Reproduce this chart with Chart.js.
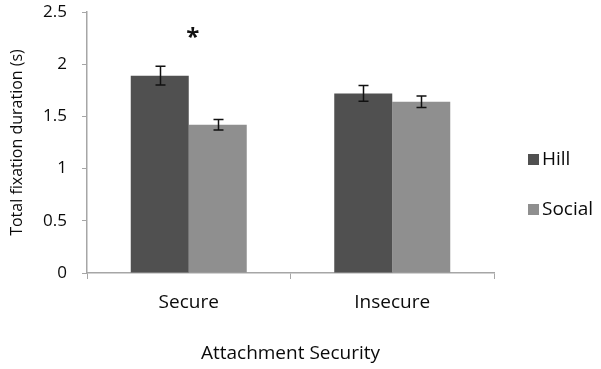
<!DOCTYPE html>
<html lang="en">
<head>
    <meta charset="UTF-8">
    <title>Total fixation duration by attachment security</title>
    <script src="https://cdn.jsdelivr.net/npm/chart.js"></script>
    <style>
        html, body { margin: 0; padding: 0; background: #fff; }
        .chart-box { position: relative; width: 601px; height: 369px; }
    </style>
</head>
<body>
    <div class="chart-box">
        <canvas id="fixationChart"></canvas>
    </div>

    <script>
        // Data
        const categories = ['Secure', 'Insecure'];
        const seriesNames = ['Hill', 'Social'];
        const hillValues = [1.89, 1.72];
        const socialValues = [1.42, 1.64];
        const hillErrors = [0.09, 0.075];
        const socialErrors = [0.05, 0.055];
        const yTicks = [0, 0.5, 1, 1.5, 2, 2.5];
        const significant = [true, false];

        const FONT = '"Open Sans", "DejaVu Sans", sans-serif';
        const axisGrey = '#a6a6a6';
        const textColor = '#0a0a0a';

        // error bars drawn through the chart's own scales
        const errorBars = {
            id: 'errorBars',
            afterDatasetsDraw(chart) {
                const ctx = chart.ctx;
                const y = chart.scales.y;
                ctx.save();
                ctx.strokeStyle = '#111';
                ctx.lineWidth = 1.5;
                chart.data.datasets.forEach((ds, di) => {
                    const meta = chart.getDatasetMeta(di);
                    meta.data.forEach((bar, i) => {
                        const v = ds.data[i], e = ds.errors[i];
                        const top = y.getPixelForValue(v + e);
                        const bot = y.getPixelForValue(v - e);
                        const x = Math.round(bar.x) + 0.5;
                        ctx.beginPath();
                        ctx.moveTo(x, top); ctx.lineTo(x, bot);
                        ctx.moveTo(x - 5, top); ctx.lineTo(x + 5, top);
                        ctx.moveTo(x - 5, bot); ctx.lineTo(x + 5, bot);
                        ctx.stroke();
                    });
                });
                // significance marker
                ctx.fillStyle = '#111';
                ctx.font = 'bold 24px ' + FONT;
                ctx.textAlign = 'center';
                ctx.textBaseline = 'middle';
                significant.forEach((s, i) => {
                    if (!s) return;
                    const x = chart.scales.x.getPixelForValue(i) + 4;
                    ctx.fillText('*', x, y.getPixelForValue(2.25));
                });
                ctx.restore();
            }
        };

        // legend on the right
        const sideLegend = {
            id: 'sideLegend',
            afterDraw(chart) {
                const ctx = chart.ctx;
                ctx.save();
                ctx.font = '19px ' + FONT;
                ctx.textBaseline = 'middle';
                ctx.textAlign = 'left';
                chart.data.datasets.forEach((ds, i) => {
                    const cy = 159 + i * 50;
                    ctx.fillStyle = ds.backgroundColor;
                    ctx.fillRect(528, cy - 5, 11, 11);
                    ctx.fillStyle = textColor;
                    ctx.fillText(ds.label, 542, cy + 1);
                });
                ctx.restore();
            }
        };

        const ctx = document.getElementById('fixationChart').getContext('2d');
        new Chart(ctx, {
            type: 'bar',
            data: {
                labels: categories,
                datasets: [{
                    label: seriesNames[0],
                    data: hillValues,
                    errors: hillErrors,
                    backgroundColor: '#505050'
                }, {
                    label: seriesNames[1],
                    data: socialValues,
                    errors: socialErrors,
                    backgroundColor: '#8f8f8f'
                }]
            },
            options: {
                responsive: true,
                maintainAspectRatio: false,
                animation: false,
                categoryPercentage: 0.57,
                barPercentage: 1,
                layout: { padding: { top: 12, right: 107, left: 4, bottom: 0 } },
                plugins: {
                    legend: { display: false },
                    tooltip: { enabled: false }
                },
                scales: {
                    x: {
                        afterFit(scale) {
                            scale.height = 96;
                            scale.paddingLeft = 0;
                            scale.paddingRight = 0;
                        },
                        grid: {
                            offset: true,
                            drawOnChartArea: false,
                            color: axisGrey,
                            tickLength: 6
                        },
                        border: { color: axisGrey, width: 1.5 },
                        ticks: {
                            color: textColor,
                            font: { family: FONT, size: 19 },
                            padding: 12,
                            maxRotation: 0
                        },
                        title: {
                            display: true,
                            text: 'Attachment Security',
                            color: textColor,
                            font: { family: FONT, size: 19 },
                            padding: { top: 12 }
                        }
                    },
                    y: {
                        min: 0,
                        max: 2.5,
                        afterFit(scale) {
                            scale.width = 83;
                            scale.paddingTop = 0;
                            scale.paddingBottom = 0;
                        },
                        afterBuildTicks(scale) {
                            scale.ticks = yTicks.map(v => ({ value: v }));
                        },
                        grid: {
                            drawOnChartArea: false,
                            color: axisGrey,
                            tickLength: 5
                        },
                        border: { color: axisGrey, width: 1.5 },
                        ticks: {
                            color: textColor,
                            font: { family: FONT, size: 17 },
                            padding: 15,
                            callback: v => String(v)
                        },
                        title: {
                            display: true,
                            text: 'Total fixation duration (s)',
                            color: textColor,
                            font: { family: FONT, size: 16 },
                            padding: { bottom: 2 }
                        }
                    }
                }
            },
            plugins: [errorBars, sideLegend]
        });
    </script>
</body>
</html>
